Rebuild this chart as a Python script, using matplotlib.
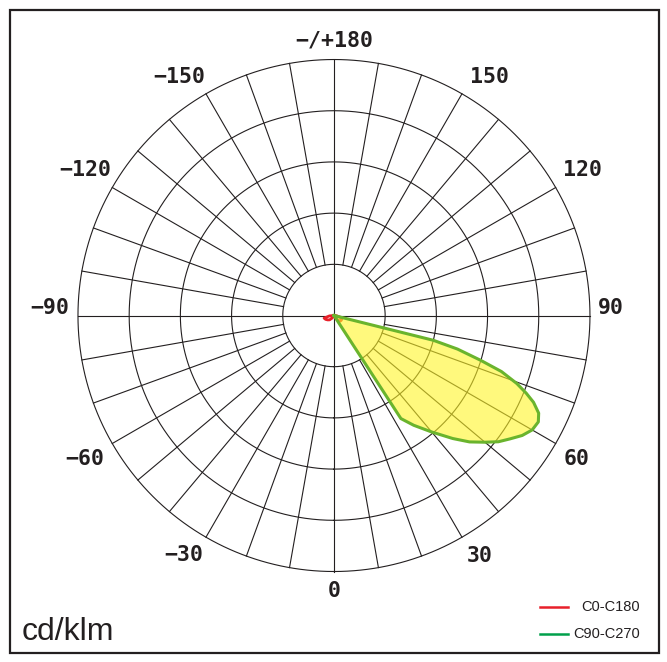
import numpy as np
import matplotlib
matplotlib.use("Agg")
import matplotlib.pyplot as plt
from matplotlib.patches import Rectangle
from matplotlib.lines import Line2D

# C90-C270 plane (gamma in degrees, cd/klm)
c90_gamma = [32.5, 33, 36, 40, 44, 47, 50, 52.5, 55, 57.5, 60, 62.5, 64.5,
             66.5, 68, 69.6, 71.5, 73, 74.8, 76, 76]
c90_values = [0, 240, 265, 297, 334, 362, 385, 405, 420, 436, 447, 450, 443,
              425, 405, 381, 345, 300, 250, 200, 0]

# C0-C180 plane
c0_gamma = [-90, -85, -75, -65, -55, -45, -35, -25, 25, 35, 45, 55, 65, 75, 85, 90]
c0_values = [0, 9, 20, 18, 15, 12, 6, 0, 0, 8, 16, 17, 17, 12, 5, 0]

ring_values = [100, 200, 300, 400, 500]
label_texts = ["0", "30", "60", "90", "120", "150", "\u2212/+180",
               "\u2212150", "\u2212120", "\u221290", "\u221260", "\u221230"]
# where each label sits (angle in degrees, radius in chart units)
label_pos_angle = [0, 31.3, 59.4, 91.5, 120.3, 147, 180, -147, -120.3, -91.5, -60.1, -32.1]
label_pos_radius = [538, 549, 551, 541, 562, 556, 538, 556, 562, 555, 562, 553]

grid_color = "#231f20"

fig = plt.figure(figsize=(6.67, 6.62), dpi=100)
ax = fig.add_axes([0.1169, 0.1367, 0.7676, 0.7734], projection="polar")
ax.set_theta_zero_location("S")
ax.set_theta_direction(1)
ax.set_ylim(0, 500)
ax.grid(False)
ax.set_xticks([])
ax.set_yticks([])
ax.spines["polar"].set_visible(False)

# rings
t = np.linspace(0, 2 * np.pi, 721)
for rv in ring_values:
    ax.plot(t, np.full_like(t, rv), color=grid_color, lw=0.8, zorder=1, clip_on=False)

# spokes every 10 degrees
for a in range(0, 360, 10):
    r0 = 0 if a % 90 == 0 else ring_values[0]
    ax.plot([np.radians(a)] * 2, [r0, ring_values[-1]], color=grid_color, lw=0.8,
            zorder=1, clip_on=False)

# curves
ax.plot(np.radians(c0_gamma), c0_values, color="#e8202a", lw=2.0, zorder=2)
th = np.radians(c90_gamma)
ax.fill(th, c90_values, color="#fff526", alpha=0.6, lw=0, zorder=3)
ax.plot(np.append(th, th[0]), c90_values + [c90_values[0]], color="#6ab42d",
        lw=2.2, zorder=4, solid_joinstyle="round")

# angle labels
for a, rr, s in zip(label_pos_angle, label_pos_radius, label_texts):
    ax.text(np.radians(a), rr, s, ha="center", va="center", fontsize=15.5,
            family="DejaVu Sans Mono", fontweight="bold", color=grid_color, clip_on=False)

# unit and legend
fig.text(22 / 667, 1 - 640 / 662, "cd/klm", fontsize=23, family="Liberation Sans",
         color=grid_color, va="baseline", ha="left")
fig.lines.append(Line2D([540 / 667, 568 / 667], [1 - 607 / 662] * 2, color="#e8202a",
                        lw=1.8, transform=fig.transFigure))
fig.lines.append(Line2D([540 / 667, 568 / 667], [1 - 634 / 662] * 2, color="#00a04b",
                        lw=1.8, transform=fig.transFigure))
fig.text(640 / 667, 1 - 607 / 662, "C0-C180", fontsize=10.5, family="Liberation Sans",
         color=grid_color, va="center", ha="right")
fig.text(640 / 667, 1 - 634 / 662, "C90-C270", fontsize=10.5, family="Liberation Sans",
         color=grid_color, va="center", ha="right")

# border
fig.patches.append(Rectangle((10 / 667, 9 / 662), 649 / 667, 643 / 662, fill=False,
                             ec=grid_color, lw=1.6, transform=fig.transFigure))

fig.savefig("out.png", dpi=100)
